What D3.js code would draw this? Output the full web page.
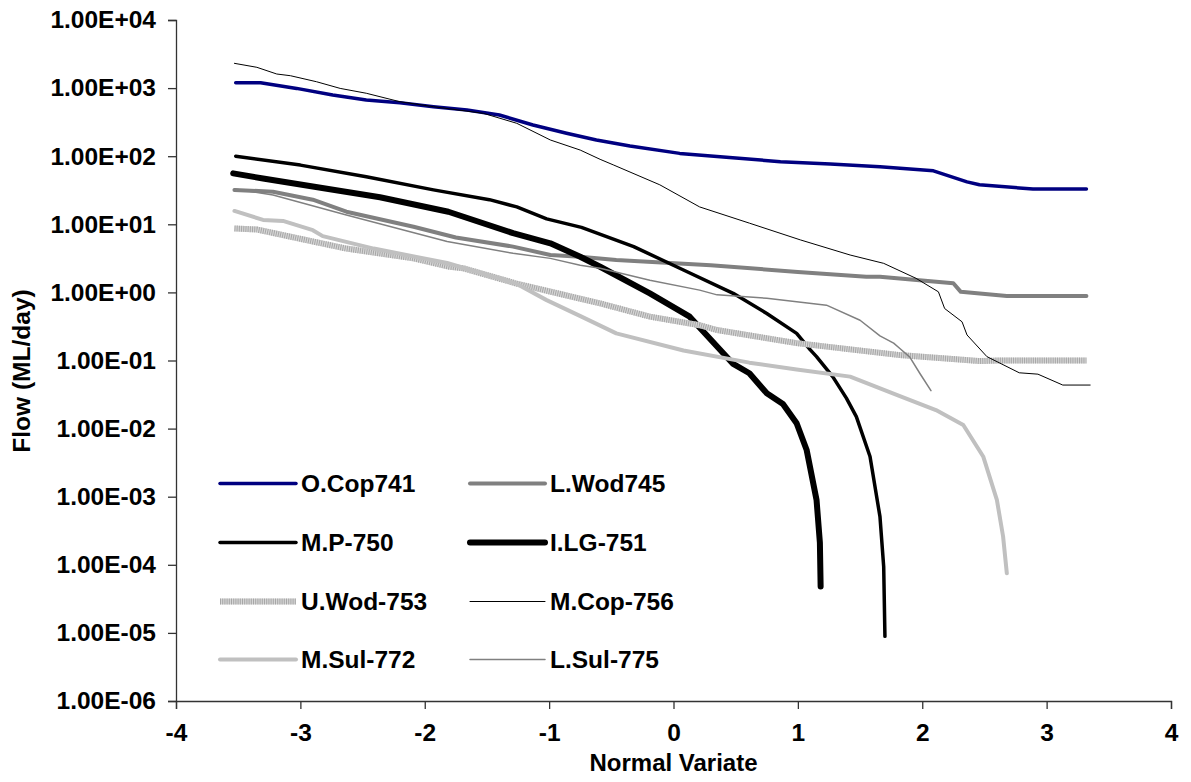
<!DOCTYPE html>
<html>
<head>
<meta charset="utf-8">
<script src="https://cdn.jsdelivr.net/npm/d3@7"></script>
<style>
  html, body { margin: 0; padding: 0; background: #fff; }
  svg text { font-family: "Liberation Sans", Arial, sans-serif; font-weight: bold; fill: #000; }
</style>
</head>
<body>
<svg id="chart" width="1191" height="782"></svg>
<script>
// Flow duration curves: flow (ML/day) against standard normal variate
const xTicks = [-4, -3, -2, -1, 0, 1, 2, 3, 4];
const yTicks = [1e-6, 1e-5, 1e-4, 1e-3, 1e-2, 1e-1, 1e0, 1e1, 1e2, 1e3, 1e4];

const ocop741X = [-3.52,-3.32,-3.03,-2.74,-2.47,-2.2,-1.93,-1.66,-1.4,-1.13,-0.86,-0.62,-0.35,0.05,0.45,0.86,1.26,1.66,2.09,2.36,2.46,2.89,3.32];
const ocop741Y = [1200,1200,990,790,670,610,533,477,403,287,217,173,141,110,96,83,77,70,61,42,38,33,33];

const lwod745X = [-3.53,-3.22,-2.9,-2.63,-2.09,-1.75,-1.29,-0.99,-0.75,-0.46,0.3,1.0,1.55,1.66,2.09,2.25,2.31,2.68,3.32];
const lwod745Y = [32,30,23,15.3,9.2,6.4,4.7,3.54,3.34,3.0,2.5,2.0,1.7,1.7,1.44,1.36,1.02,0.885,0.885];

const mp750X = [-3.52,-3.0,-2.47,-1.93,-1.48,-1.26,-1.02,-0.74,-0.32,0.08,0.48,0.75,0.99,1.10,1.15,1.28,1.39,1.47,1.58,1.66,1.69,1.70];
const mp750Y = [100,74,50,32,23,18,12,9,4.7,2.13,0.97,0.49,0.25,0.143,0.114,0.058,0.028,0.015,0.0039,5.1e-4,9.4e-5,8.9e-6];

const ilg751X = [-3.54,-3.3,-2.9,-2.36,-1.81,-1.29,-0.99,-0.75,-0.59,-0.19,0.13,0.48,0.61,0.75,0.88,0.99,1.07,1.15,1.177,1.183];
const ilg751Y = [56,47,36,25,15.3,7.4,5.25,3.34,2.38,0.97,0.44,0.089,0.065,0.033,0.023,0.012,0.0049,9e-4,2.1e-4,4.8e-5];

const uwod753X = [-3.53,-3.35,-2.9,-2.63,-2.09,-1.8,-1.69,-1.27,-0.74,-0.59,-0.19,0.21,0.35,0.99,1.82,2.19,2.46,2.62,3.32];
const uwod753Y = [8.7,8.4,5.6,4.4,3.16,2.38,2.26,1.36,0.8,0.69,0.44,0.33,0.28,0.18,0.12,0.107,0.098,0.10,0.10];

const mcop756X = [-3.53,-3.35,-3.19,-3.08,-2.87,-2.68,-2.47,-2.2,-1.93,-1.53,-1.26,-0.99,-0.75,-0.59,-0.48,-0.11,0.21,0.61,1.02,1.42,1.69,1.95,2.13,2.18,2.32,2.36,2.52,2.78,2.93,3.13,3.35];
const mcop756Y = [2310,2020,1610,1520,1240,990,840,631,533,427,304,173,123,90,74,38,18,10.4,5.9,3.54,2.67,1.61,1.02,0.58,0.37,0.237,0.114,0.066,0.063,0.0436,0.0436];

const msul772X = [-3.53,-3.3,-3.14,-2.9,-2.82,-2.41,-1.82,-1.27,-1.02,-0.74,-0.46,0.08,0.61,0.99,1.42,1.82,2.11,2.33,2.49,2.6,2.65,2.68];
const msul772Y = [15.7,11.6,11.2,8.2,6.7,4.4,2.7,1.36,0.77,0.44,0.25,0.14,0.093,0.074,0.058,0.030,0.0187,0.0113,0.0039,9e-4,2.6e-4,7.5e-5];

const lsul775X = [-3.53,-3.22,-2.63,-1.82,-1.29,-0.99,-0.75,-0.59,-0.19,0.21,0.35,0.75,0.99,1.23,1.5,1.66,1.77,1.82,1.9,1.98,2.07];
const lsul775Y = [33,27,13.7,5.6,3.75,3.16,2.5,2.26,1.51,1.08,0.92,0.82,0.73,0.65,0.39,0.23,0.18,0.15,0.112,0.065,0.036];

const seriesNames = ["O.Cop741", "L.Wod745", "M.P-750", "I.LG-751", "U.Wod-753", "M.Cop-756", "M.Sul-772", "L.Sul-775"];

// Line styling per series (same order as seriesNames)
const styles = [
  { color: "#000080", width: 3.5 },
  { color: "#808080", width: 4 },
  { color: "#000000", width: 3.5 },
  { color: "#000000", width: 6 },
  { color: "#a6a6a6", width: 6, striped: true },
  { color: "#000000", width: 1 },
  { color: "#c0c0c0", width: 4 },
  { color: "#808080", width: 1.5 }
];

const seriesData = [
  [ocop741X, ocop741Y], [lwod745X, lwod745Y], [mp750X, mp750Y], [ilg751X, ilg751Y],
  [uwod753X, uwod753Y], [mcop756X, mcop756Y], [msul772X, msul772Y], [lsul775X, lsul775Y]
].map(([xs, ys]) => xs.map((x, i) => ({ x, y: ys[i] })));

const svg = d3.select("#chart");
const plot = { left: 176, right: 1171, top: 20, bottom: 701 };
const fontSize = 24.5;

const x = d3.scaleLinear().domain([-4, 4]).range([plot.left, plot.right]);
const y = d3.scaleLog().domain([1e-6, 1e4]).range([plot.bottom, plot.top]);

const expFormat = v => {
  const e = Math.round(Math.log10(v));
  const sign = e < 0 ? "-" : "+";
  return "1.00E" + sign + String(Math.abs(e)).padStart(2, "0");
};

// Axes
const yAxis = d3.axisLeft(y).tickValues(yTicks).tickFormat(expFormat).tickSize(8).tickPadding(12);
const xAxis = d3.axisBottom(x).tickValues(xTicks).tickFormat(d3.format("d")).tickSize(8).tickPadding(15);

const gy = svg.append("g").attr("transform", `translate(${plot.left},0)`).call(yAxis);
const gx = svg.append("g").attr("transform", `translate(0,${plot.bottom})`).call(xAxis);

[gx, gy].forEach(g => {
  g.select(".domain").attr("stroke", "#333").attr("stroke-width", 1.3);
  g.selectAll(".tick line").attr("stroke", "#333").attr("stroke-width", 1.3);
  g.selectAll("text").attr("font-size", fontSize).attr("font-family", "Liberation Sans, Arial, sans-serif")
    .attr("font-weight", "bold").attr("fill", "#000");
});
gx.selectAll(".tick text").text(d => d < 0 ? "-" + Math.abs(d) : d);

// Axis titles
svg.append("text")
  .attr("x", (plot.left + plot.right) / 2).attr("y", 771)
  .attr("text-anchor", "middle").attr("font-size", 24)
  .text("Normal Variate");

svg.append("text")
  .attr("transform", `translate(30,371) rotate(-90)`)
  .attr("text-anchor", "middle").attr("font-size", fontSize)
  .text("Flow (ML/day)");

// Series lines
const line = d3.line().x(d => x(d.x)).y(d => y(d.y));
const linesG = svg.append("g");

function drawStroke(g, st, pathAttr) {
  if (st.striped) {
    g.append("path").call(pathAttr).attr("fill", "none")
      .attr("stroke", "#d6d6d6").attr("stroke-width", st.width);
    g.append("path").call(pathAttr).attr("fill", "none")
      .attr("stroke", st.color).attr("stroke-width", st.width)
      .attr("stroke-dasharray", "1,1.2");
  } else {
    g.append("path").call(pathAttr).attr("fill", "none")
      .attr("stroke", st.color).attr("stroke-width", st.width)
      .attr("stroke-linejoin", "round").attr("stroke-linecap", "round");
  }
}

seriesData.forEach((pts, i) => {
  drawStroke(linesG, styles[i], p => p.attr("d", line(pts)));
});

// Legend (two columns, four rows, no frame)
const legendRows = [483.5, 542.5, 601.5, 659.5];
const legendCols = [{ x0: 220, x1: 296, tx: 301 }, { x0: 470, x1: 545, tx: 550 }];
const legend = svg.append("g");
seriesNames.forEach((name, i) => {
  const c = legendCols[i % 2];
  const ry = legendRows[Math.floor(i / 2)];
  drawStroke(legend, styles[i], p => p.attr("d", `M${c.x0},${ry}H${c.x1}`));
  legend.append("text").attr("x", c.tx).attr("y", ry).attr("dy", "0.36em")
    .attr("font-size", fontSize).text(name);
});
</script>
</body>
</html>
